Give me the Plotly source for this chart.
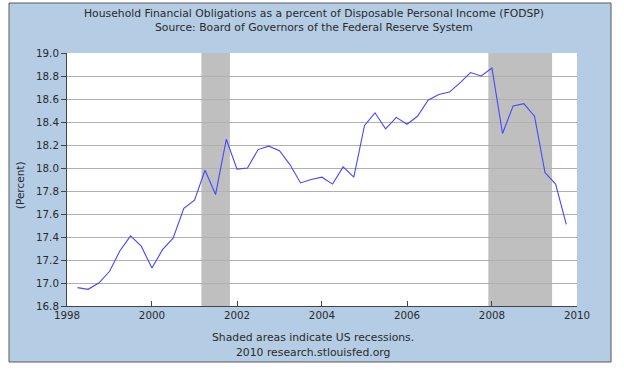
import plotly.graph_objects as go

dates = [
    "1998-04-01", "1998-07-01", "1998-10-01",
    "1999-01-01", "1999-04-01", "1999-07-01", "1999-10-01",
    "2000-01-01", "2000-04-01", "2000-07-01", "2000-10-01",
    "2001-01-01", "2001-04-01", "2001-07-01", "2001-10-01",
    "2002-01-01", "2002-04-01", "2002-07-01", "2002-10-01",
    "2003-01-01", "2003-04-01", "2003-07-01", "2003-10-01",
    "2004-01-01", "2004-04-01", "2004-07-01", "2004-10-01",
    "2005-01-01", "2005-04-01", "2005-07-01", "2005-10-01",
    "2006-01-01", "2006-04-01", "2006-07-01", "2006-10-01",
    "2007-01-01", "2007-04-01", "2007-07-01", "2007-10-01",
    "2008-01-01", "2008-04-01", "2008-07-01", "2008-10-01",
    "2009-01-01", "2009-04-01", "2009-07-01", "2009-10-01",
]
values = [
    16.96, 16.945, 17.00,
    17.10, 17.28, 17.41, 17.32,
    17.13, 17.29, 17.39, 17.65,
    17.72, 17.98, 17.77, 18.25,
    17.99, 18.00, 18.16, 18.19,
    18.15, 18.03, 17.87, 17.90,
    17.92, 17.86, 18.01, 17.92,
    18.37, 18.48, 18.34, 18.44,
    18.38, 18.45, 18.59, 18.64,
    18.66, 18.74, 18.83, 18.80,
    18.87, 18.30, 18.54, 18.56,
    18.45, 17.96, 17.86, 17.51,
]
recession_starts = ["2001-03-01", "2007-12-01"]
recession_ends = ["2001-11-01", "2009-06-01"]

title_lines = [
    "Household Financial Obligations as a percent of Disposable Personal Income (FODSP)",
    "Source: Board of Governors of the Federal Reserve System",
]
footer_lines = ["Shaded areas indicate US recessions.", "2010 research.stlouisfed.org"]
y_label = "(Percent)"

FONT = "DejaVu Sans"
TXT = "#2a2a2a"
TS = 10.8

fig = go.Figure()
fig.add_trace(go.Scatter(
    x=dates, y=values, mode="lines",
    line=dict(color="rgb(70,70,255)", width=1.1),
    hoverinfo="skip", showlegend=False,
))

shapes = [
    # blue frame
    dict(type="rect", xref="paper", yref="paper",
         x0=-0.1137, x1=1.0667, y0=-0.2213, y1=1.1976,
         fillcolor="#b4cde4", line=dict(color="#5a5a5a", width=1), layer="below"),
    # white plot area
    dict(type="rect", xref="paper", yref="paper",
         x0=0, x1=1, y0=0, y1=1,
         fillcolor="white", line=dict(width=0), layer="below"),
]
for s, e in zip(recession_starts, recession_ends):
    shapes.append(dict(type="rect", xref="x", yref="paper", x0=s, x1=e, y0=0, y1=1,
                       fillcolor="#bfbfbf", line=dict(width=0), layer="between"))

annotations = [
    dict(text=title_lines[0], x=0.484, y=1.158, xref="paper", yref="paper",
         showarrow=False, font=dict(family=FONT, size=TS, color=TXT), yanchor="middle"),
    dict(text=title_lines[1], x=0.484, y=1.099, xref="paper", yref="paper",
         showarrow=False, font=dict(family=FONT, size=TS, color=TXT), yanchor="middle"),
    dict(text=footer_lines[0], x=0.482, y=-0.126, xref="paper", yref="paper",
         showarrow=False, font=dict(family=FONT, size=TS, color=TXT), yanchor="middle"),
    dict(text=footer_lines[1], x=0.482, y=-0.182, xref="paper", yref="paper",
         showarrow=False, font=dict(family=FONT, size=TS, color=TXT), yanchor="middle"),
    dict(text=y_label, x=-0.092, y=0.478, xref="paper", yref="paper", textangle=-90,
         showarrow=False, font=dict(family=FONT, size=10.5, color=TXT),
         xanchor="center", yanchor="middle"),
]

fig.update_layout(
    width=624, height=377,
    margin=dict(l=67, r=47, t=53, b=71),
    paper_bgcolor="white",
    plot_bgcolor="rgba(0,0,0,0)",
    font=dict(family=FONT, size=10, color=TXT),
    shapes=shapes,
    annotations=annotations,
    showlegend=False,
    xaxis=dict(
        type="date", range=["1998-01-01", "2010-01-01"],
        tickmode="linear", tick0="1998-01-01", dtick="M24", tickformat="%Y",
        ticks="inside", ticklen=5, tickcolor="#444", showgrid=False,
        showline=True, linecolor="#444", linewidth=1, zeroline=False,
        tickfont=dict(family=FONT, size=10.3, color=TXT),
    ),
    yaxis=dict(
        range=[16.8, 19.0], tickmode="linear", tick0=16.8, dtick=0.2, tickformat=".1f",
        ticks="outside", ticklen=5, tickcolor="#444",
        showgrid=True, gridcolor="#b0b0b0", gridwidth=1,
        showline=True, linecolor="#444", linewidth=1, zeroline=False,
        tickfont=dict(family=FONT, size=10.3, color=TXT),
    ),
)

fig.write_html("out.html", config={"displayModeBar": False, "staticPlot": True},
               post_script="document.body.style.margin='0';")
